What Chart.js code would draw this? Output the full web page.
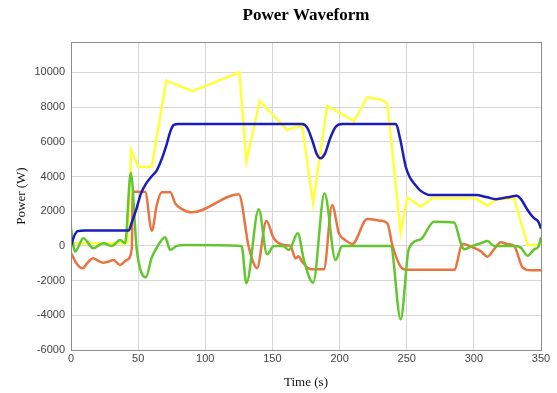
<!DOCTYPE html>
<html>
<head>
<meta charset="utf-8">
<title>Power Waveform</title>
<script src="https://cdn.jsdelivr.net/npm/chart.js@4.4.1/dist/chart.umd.min.js"></script>
<style>
  html, body { margin: 0; padding: 0; background: #ffffff; }
  #wrap { width: 557px; height: 393px; }
</style>
</head>
<body>
<div id="wrap"><canvas id="graficoPotencia" width="557" height="393"></canvas></div>
<script>
// axis ticks
const timeTicks = [0, 50, 100, 150, 200, 250, 300, 350];
const powerTicks = [-6000, -4000, -2000, 0, 2000, 4000, 6000, 8000, 10000];

// blue series
const blueTime = [0, 2, 5, 10, 43, 45, 48.5, 52, 56, 60, 64, 68, 71.4, 74, 76.4, 80, 172, 176, 180, 183, 185.8, 189, 193, 197, 202, 242, 245, 249.3, 252, 255.5, 260, 268, 301.5, 310, 316.4, 325, 332, 335, 340, 343, 345, 348, 350];
const bluePower = [0, 500, 850, 880, 880, 1300, 2070, 3000, 3600, 4000, 4370, 5100, 5900, 6600, 6960, 7020, 7020, 6800, 6000, 5300, 5050, 5300, 6200, 6850, 7020, 7020, 6200, 4560, 4000, 3600, 3200, 2930, 2930, 2800, 2690, 2800, 2890, 2700, 2070, 1750, 1590, 1400, 1000];

// yellow series
const yellowTime = [0, 3, 42, 44.8, 50.2, 60.2, 70.9, 90.5, 125.4, 130.6, 140.5, 161, 172, 180.3, 190.7, 210.7, 220.6, 230.6, 235.6, 245.5, 250.5, 260.4, 269, 301.5, 310.2, 316.4, 330, 340, 348.7, 350];
const yellowPower = [0, 150, 150, 5520, 4560, 4560, 9520, 8920, 10000, 4850, 8350, 6680, 6960, 2450, 8060, 7190, 8560, 8440, 8210, 760, 2800, 2260, 2740, 2740, 2320, 2680, 2740, 50, 50, 400];

// orange series
const orangeTime = [0, 4, 8.7, 12, 16.6, 20, 24, 28, 31.6, 36.6, 41.5, 45.3, 46, 55.2, 60.2, 64, 67.6, 73.9, 77.6, 82, 90, 124.9, 132.3, 135.5, 138.5, 145.5, 151, 158.5, 163.4, 167.2, 169.6, 172, 178.4, 188.3, 194.5, 199.5, 204, 209.5, 220.6, 230.6, 235.6, 239.3, 245.5, 250.5, 285.3, 291.6, 299, 305, 310.2, 315, 320.1, 325, 330, 336.2, 342.5, 350];
const orangePower = [-400, -1000, -1290, -1000, -714, -850, -965, -900, -812, -1100, -812, -140, 3120, 3120, 876, 2400, 3090, 3090, 2450, 2150, 1935, 2970, -46, -900, -1290, 1434, 437, 52, 0, -714, -600, -900, -1350, -1350, 2355, 725, 350, 110, 1550, 1450, 1300, 52, -1200, -1380, -1380, 110, -80, -300, -620, -200, 207, 100, 0, -1232, -1400, -1400];

// green series
const greenTime = [0, 3, 9.2, 16.6, 24, 30.4, 36.6, 40.3, 44.5, 49, 55.7, 60, 64, 70.1, 73.9, 78.8, 85, 127, 130.6, 139.8, 146, 151, 158, 162.2, 168.9, 173.4, 180.3, 188.8, 197, 202, 238, 245.5, 251.7, 260.4, 270.4, 285.3, 290.3, 292.8, 299, 305.2, 310.2, 315, 330, 335, 340, 345, 348, 350];
const greenPower = [1000, -330, 437, -140, 150, 0, 340, 150, 4200, -236, -1810, -700, -80, 495, -236, 0, 50, 0, -2150, 2110, -480, 0, 0, -236, 725, -812, -2120, 3030, -812, 0, 0, -4230, -140, 380, 1394, 1350, 150, -200, 0, 150, 280, 0, 0, -100, -565, -200, -50, 495];

function pares(ts, ps) {
  return ts.map(function (t, i) { return { x: t, y: ps[i] }; });
}

// moldura em volta da área do gráfico
const moldura = {
  id: 'moldura',
  afterDraw(chart) {
    const a = chart.chartArea;
    const c = chart.ctx;
    c.save();
    c.strokeStyle = '#8c8c8c';
    c.lineWidth = 1;
    c.strokeRect(Math.round(a.left) + 0.5, Math.round(a.top) + 0.5, Math.round(a.right - a.left), Math.round(a.bottom - a.top));
    c.restore();
  }
};

const ctx = document.getElementById('graficoPotencia').getContext('2d');
new Chart(ctx, {
  type: 'line',
  data: {
    datasets: [
      {
        label: 'Blue',
        data: pares(blueTime, bluePower),
        borderColor: '#1c1cb8',
        borderWidth: 2.5,
        cubicInterpolationMode: 'monotone',
        pointRadius: 0,
        order: 0
      },
      {
        label: 'Green',
        data: pares(greenTime, greenPower),
        borderColor: '#62c62e',
        borderWidth: 2.5,
        cubicInterpolationMode: 'monotone',
        pointRadius: 0,
        order: 1
      },
      {
        label: 'Yellow',
        data: pares(yellowTime, yellowPower),
        borderColor: '#ffff3c',
        borderWidth: 2.5,
        tension: 0,
        pointRadius: 0,
        order: 2
      },
      {
        label: 'Orange',
        data: pares(orangeTime, orangePower),
        borderColor: '#ea7440',
        borderWidth: 2.5,
        cubicInterpolationMode: 'monotone',
        pointRadius: 0,
        order: 3
      }
    ]
  },
  options: {
    responsive: false,
    animation: false,
    layout: {
      padding: { left: 0, right: 16, top: 0, bottom: 0 }
    },
    scales: {
      x: {
        type: 'linear',
        min: timeTicks[0],
        max: timeTicks[timeTicks.length - 1],
        afterFit: function (s) { s.height = 43; },
        afterBuildTicks: function (s) { s.ticks = timeTicks.map(function (v) { return { value: v }; }); },
        border: { display: false },
        grid: { color: '#d6d6d6', drawTicks: false },
        ticks: {
          padding: 2,
          color: '#444',
          font: { family: 'Liberation Sans', size: 11 },
          maxRotation: 0,
          callback: function (v) { return String(v); }
        },
        title: {
          display: true,
          text: 'Time (s)',
          color: '#111',
          font: { family: 'Liberation Serif', size: 13 },
          padding: { top: 0, bottom: 3 }
        }
      },
      y: {
        type: 'linear',
        min: -6000,
        max: 11750,
        afterFit: function (s) { s.width = 71; },
        afterBuildTicks: function (s) { s.ticks = powerTicks.map(function (v) { return { value: v }; }); },
        border: { display: false },
        grid: { color: '#d6d6d6', drawTicks: false },
        ticks: {
          padding: 6,
          color: '#444',
          font: { family: 'Liberation Sans', size: 11 },
          callback: function (v) { return String(v); }
        },
        title: {
          display: true,
          text: 'Power (W)',
          color: '#111',
          font: { family: 'Liberation Serif', size: 13 },
          padding: { top: 14, bottom: 0 }
        }
      }
    },
    plugins: {
      legend: { display: false },
      tooltip: { enabled: false },
      title: {
        display: true,
        fullSize: false,
        text: 'Power Waveform',
        color: '#000',
        font: { family: 'Liberation Serif', size: 17, weight: 'bold' },
        padding: { top: 5, bottom: 16.6 }
      }
    }
  },
  plugins: [moldura]
});
</script>
</body>
</html>
